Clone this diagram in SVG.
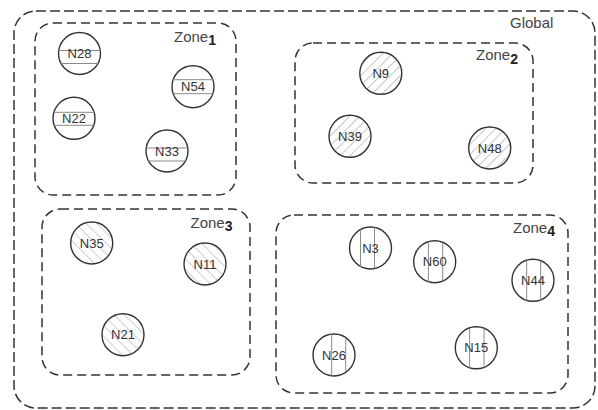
<svg xmlns="http://www.w3.org/2000/svg" width="598" height="410" viewBox="0 0 598 410">
<style>
.zone{fill:none;stroke:#333;stroke-width:1.5;stroke-dasharray:9 5}
.global{fill:none;stroke:#333;stroke-width:1.5;stroke-dasharray:10 4}
.node{stroke:#333;stroke-width:1.4}
.hl{stroke:#8a8a8a;stroke-width:1}
.lbl{font-family:"Liberation Sans",Arial,sans-serif;font-size:13px;fill:#333;text-anchor:middle}
.zt{font-family:"Liberation Sans",Arial,sans-serif;font-size:15px;fill:#444}
.sub{font-weight:bold;font-size:14px;fill:#222}
</style>
<defs>
<pattern id="hatchF" patternUnits="userSpaceOnUse" width="7" height="7" patternTransform="rotate(45)">
<rect width="7" height="7" fill="#fff"/>
<line x1="0" y1="0" x2="0" y2="7" stroke="#999" stroke-width="1.1"/>
</pattern>
<pattern id="hatchB" patternUnits="userSpaceOnUse" width="7.5" height="7.5" patternTransform="rotate(-45)">
<rect width="7.5" height="7.5" fill="#fff"/>
<line x1="0" y1="0" x2="0" y2="7.5" stroke="#aaa" stroke-width="1.1"/>
</pattern>
</defs>

<g id="global">
<rect class="global" x="14" y="11" width="581" height="397" rx="22" ry="22"/>
<text class="zt" x="510" y="28">Global</text>
</g>

<g id="zone1">
<rect class="zone" x="35" y="23" width="201" height="172" rx="18" ry="18"/>
<text class="zt" x="174" y="42">Zone<tspan class="sub" dy="3">1</tspan></text>
</g>
<g id="zone2">
<rect class="zone" x="295" y="43" width="238" height="140" rx="18" ry="18"/>
<text class="zt" x="476" y="60">Zone<tspan class="sub" dy="4">2</tspan></text>
</g>
<g id="zone3">
<rect class="zone" x="42" y="209" width="208" height="166" rx="18" ry="18"/>
<text class="zt" x="190.5" y="228">Zone<tspan class="sub" dy="3">3</tspan></text>
</g>
<g id="zone4">
<rect class="zone" x="276" y="215" width="292" height="178" rx="18" ry="18"/>
<text class="zt" x="513" y="233">Zone<tspan class="sub" dy="3">4</tspan></text>
</g>

<g id="connectors"></g>

<!-- Zone 1: horizontal hatching -->
<g id="N28">
<circle class="node" cx="79.5" cy="53.5" r="21" fill="#fff"/>
<line class="hl" x1="58.7" y1="50.5" x2="100.3" y2="50.5"/>
<line class="hl" x1="61" y1="63.5" x2="98" y2="63.5"/>
<text class="lbl" x="79.5" y="58">N28</text>
</g>
<g id="N54">
<circle class="node" cx="193" cy="86.7" r="21" fill="#fff"/>
<line class="hl" x1="173.2" y1="79.7" x2="212.8" y2="79.7"/>
<line class="hl" x1="173.2" y1="93.7" x2="212.8" y2="93.7"/>
<text class="lbl" x="193" y="91.2">N54</text>
</g>
<g id="N22">
<circle class="node" cx="74" cy="118.3" r="21" fill="#fff"/>
<line class="hl" x1="53.9" y1="112.3" x2="94.1" y2="112.3"/>
<line class="hl" x1="54.2" y1="125.3" x2="93.8" y2="125.3"/>
<text class="lbl" x="74" y="122.8">N22</text>
</g>
<g id="N33">
<circle class="node" cx="167" cy="151" r="21" fill="#fff"/>
<line class="hl" x1="146.2" y1="148" x2="187.8" y2="148"/>
<line class="hl" x1="148.5" y1="161" x2="185.5" y2="161"/>
<text class="lbl" x="167" y="155.5">N33</text>
</g>

<!-- Zone 2: forward diagonal hatching -->
<g id="N9">
<circle class="node" cx="380.8" cy="73.3" r="21" fill="url(#hatchF)"/>
<text class="lbl" x="380.8" y="77.8">N9</text>
</g>
<g id="N39">
<circle class="node" cx="350" cy="136.3" r="21" fill="url(#hatchF)"/>
<text class="lbl" x="350" y="140.8">N39</text>
</g>
<g id="N48">
<circle class="node" cx="489.7" cy="148" r="21" fill="url(#hatchF)"/>
<text class="lbl" x="489.7" y="152.5">N48</text>
</g>

<!-- Zone 3: backward diagonal hatching -->
<g id="N35">
<circle class="node" cx="91.7" cy="243" r="21" fill="url(#hatchB)"/>
<text class="lbl" x="91.7" y="247.5">N35</text>
</g>
<g id="N11">
<circle class="node" cx="205" cy="264" r="21" fill="url(#hatchB)"/>
<text class="lbl" x="205" y="268.5">N11</text>
</g>
<g id="N21">
<circle class="node" cx="123" cy="334.7" r="21" fill="url(#hatchB)"/>
<text class="lbl" x="123" y="339.2">N21</text>
</g>

<!-- Zone 4: vertical hatching -->
<g id="N3">
<circle class="node" cx="370.5" cy="248" r="21" fill="#fff"/>
<line class="hl" x1="360.5" y1="229.5" x2="360.5" y2="266.5"/>
<line class="hl" x1="374.5" y1="227.4" x2="374.5" y2="268.6"/>
<text class="lbl" x="370.5" y="252.5">N3</text>
</g>
<g id="N60">
<circle class="node" cx="434.7" cy="261.7" r="21" fill="#fff"/>
<line class="hl" x1="428.4" y1="241.6" x2="428.4" y2="281.8"/>
<line class="hl" x1="442.7" y1="242.3" x2="442.7" y2="281.1"/>
<text class="lbl" x="434.7" y="266.2">N60</text>
</g>
<g id="N44">
<circle class="node" cx="533" cy="280.3" r="21" fill="#fff"/>
<line class="hl" x1="526.7" y1="260.2" x2="526.7" y2="300.4"/>
<line class="hl" x1="540.7" y1="260.6" x2="540.7" y2="300"/>
<text class="lbl" x="533" y="284.8">N44</text>
</g>
<g id="N26">
<circle class="node" cx="334" cy="355" r="21" fill="#fff"/>
<line class="hl" x1="331.7" y1="334.1" x2="331.7" y2="375.9"/>
<line class="hl" x1="345.7" y1="337.8" x2="345.7" y2="372.2"/>
<text class="lbl" x="334" y="359.5">N26</text>
</g>
<g id="N15">
<circle class="node" cx="476.3" cy="347.8" r="21" fill="#fff"/>
<line class="hl" x1="469.6" y1="327.9" x2="469.6" y2="367.7"/>
<line class="hl" x1="484" y1="328.3" x2="484" y2="367.3"/>
<text class="lbl" x="476.3" y="352.3">N15</text>
</g>
</svg>
